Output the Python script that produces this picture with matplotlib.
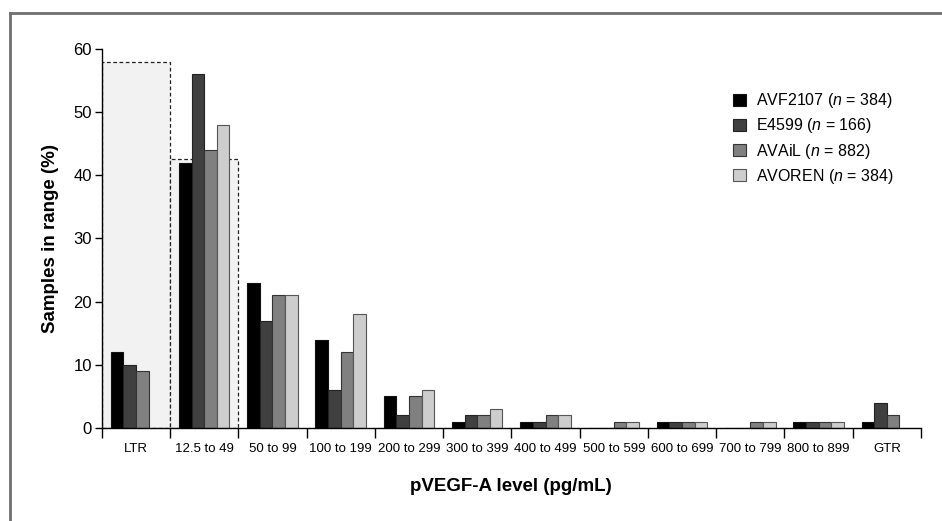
import numpy as np
import matplotlib
matplotlib.use("Agg")
import matplotlib.pyplot as plt
from matplotlib.lines import Line2D
from matplotlib.patches import Rectangle

plt.rcParams['font.family'] = ['Liberation Sans', 'DejaVu Sans']
plt.rcParams['mathtext.fontset'] = 'custom'
plt.rcParams['mathtext.rm'] = 'Liberation Sans'
plt.rcParams['mathtext.it'] = 'Liberation Sans:italic'

categories = ["LTR", "12.5 to 49", "50 to 99", "100 to 199", "200 to 299", "300 to 399",
              "400 to 499", "500 to 599", "600 to 699", "700 to 799", "800 to 899", "GTR"]
series = ["AVF2107 ($n$ = 384)", "E4599 ($n$ = 166)", "AVAiL ($n$ = 882)", "AVOREN ($n$ = 384)"]
avf2107 = [12, 42, 23, 14, 5, 1, 1, 0, 1, 0, 1, 1]
e4599 = [10, 56, 17, 6, 2, 2, 1, 0, 1, 0, 1, 4]
avail = [9, 44, 21, 12, 5, 2, 2, 1, 1, 1, 1, 2]
avoren = [None, 48, 21, 18, 6, 3, 2, 1, 1, 1, 1, None]
ltr_box = 58
lower_box = 42.6

colors = ["#000000", "#404040", "#808080", "#cdcdcd"]
edges = ["#111111", "#222222", "#333333", "#555555"]

fig = plt.figure(figsize=(9.42, 5.21), dpi=100)
ax = fig.add_axes([0.108, 0.1785, 0.8697, 0.7275])

x = np.arange(len(categories))
w = 0.185

# dashed shaded regions behind bars
ax.add_patch(Rectangle((-0.5, 0), 1, ltr_box, facecolor="#f2f2f2", edgecolor="#222222",
                       linestyle=(0, (3, 2)), linewidth=0.9, zorder=0))
ax.add_patch(Rectangle((0.5, 0), 1, lower_box, facecolor="#f2f2f2", edgecolor="#222222",
                       linestyle=(0, (3, 2)), linewidth=0.9, zorder=0))

for k, vals in enumerate([avf2107, e4599, avail, avoren]):
    xs = [x[i] + (k - 1.5) * w for i in range(len(vals)) if vals[i] is not None]
    hs = [v for v in vals if v is not None]
    ax.bar(xs, hs, width=w, color=colors[k], edgecolor=edges[k], linewidth=0.8,
           label=series[k], zorder=2)

ax.set_xlim(-0.5, 11.5)
ax.set_ylim(0, 60)
ax.set_yticks(range(0, 61, 10))
ax.set_xticks(np.arange(-0.5, 12, 1))
ax.set_xticklabels([])
ax.set_xticks(x, minor=True)
ax.set_xticklabels(categories, minor=True, fontsize=9.5)
ax.tick_params(axis='x', which='major', length=7, width=1, direction='out')
ax.tick_params(axis='x', which='minor', length=0, pad=11)
ax.tick_params(axis='y', length=5, width=1, labelsize=12, pad=2)
for s in ["top", "right"]:
    ax.spines[s].set_visible(False)
for s in ["left", "bottom"]:
    ax.spines[s].set_linewidth(1)

ax.set_ylabel("Samples in range (%)", fontsize=13.5, fontweight="bold", labelpad=10)
ax.set_xlabel("pVEGF-A level (pg/mL)", fontsize=13.5, fontweight="bold", labelpad=16)

ax.legend(loc="upper left", bbox_to_anchor=(0.77, 0.888), frameon=False, fontsize=11.5,
          handlelength=0.85, handleheight=0.85, handletextpad=0.6, labelspacing=0.38,
          borderaxespad=0, borderpad=0)

# outer grey frame
fig.add_artist(Line2D([10 / 942, 10 / 942], [0, 1 - 12.7 / 521], transform=fig.transFigure,
                      color="#707070", linewidth=2))
fig.add_artist(Line2D([10 / 942, 1], [1 - 12.7 / 521, 1 - 12.7 / 521], transform=fig.transFigure,
                      color="#707070", linewidth=2))

fig.savefig("out.png", dpi=100)
